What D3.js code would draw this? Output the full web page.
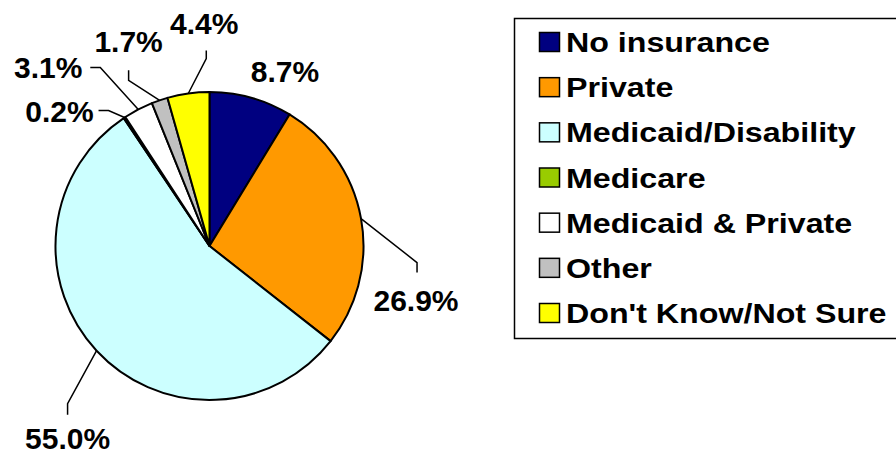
<!DOCTYPE html>
<html>
<head>
<meta charset="utf-8">
<script src="https://cdn.jsdelivr.net/npm/d3@7"></script>
<style>
  html, body { margin: 0; padding: 0; background: #fff; }
  svg { display: block; }
  text { font-family: "Liberation Sans", Arial, Helvetica, sans-serif; font-weight: bold; fill: #000; }
</style>
</head>
<body>
<svg id="chart" width="896" height="455"></svg>
<script>
// ---- data ----
const categories = ["No insurance", "Private", "Medicaid/Disability", "Medicare", "Medicaid & Private", "Other", "Don't Know/Not Sure"];
const values = [8.7, 26.9, 55.0, 0.2, 3.1, 1.7, 4.4];
const colors = ["#000080", "#FF9900", "#CCFFFF", "#99CC00", "#FFFFFF", "#C0C0C0", "#FFFF00"];

// ---- label layout (offsets relative to the slice's outer edge point) ----
const labelLayout = [
  { leader: false, text: [285, 82] },
  { leader: true, elbow: [56, 44], tail: [0, 10], text: [-1, 38], anchor: "middle" },
  { leader: true, elbow: [-29, 53], tail: [0, 11], text: [0, 34], anchor: "middle" },
  { leader: true, elbow: [-16, -7], tail: [-10, 0], text: [-39, 11], anchor: "middle" },
  { leader: true, elbow: [-38, -42], tail: [-10, 0], text: [-42, 11], anchor: "middle" },
  { leader: true, elbow: [-31, -20], tail: [0, -10], text: [0, -18], anchor: "middle" },
  { leader: true, elbow: [18, -35], tail: [0, -8], text: [-2, -16], anchor: "middle" }
];

const svg = d3.select("#chart");
const cx = 209.5, cy = 246, r = 154;

const pie = d3.pie().sort(null).value(d => d)(values);
const arc = d3.arc().innerRadius(0).outerRadius(r);

const g = svg.append("g").attr("transform", `translate(${cx},${cy})`);
g.selectAll("path.slice")
  .data(pie)
  .join("path")
  .attr("class", "slice")
  .attr("d", arc)
  .attr("fill", (d, i) => colors[i])
  .attr("stroke", "#000")
  .attr("stroke-width", 2)
  .attr("stroke-linejoin", "round");

pie.forEach((d, i) => {
  const L = labelLayout[i];
  const txt = values[i].toFixed(1) + "%";
  if (!L.leader) {
    svg.append("text")
      .attr("x", L.text[0]).attr("y", L.text[1])
      .attr("text-anchor", "middle")
      .attr("font-size", 30)
      .text(txt);
    return;
  }
  const a = (d.startAngle + d.endAngle) / 2;
  const p0 = [cx + r * Math.sin(a), cy - r * Math.cos(a)];
  const p1 = [p0[0] + L.elbow[0], p0[1] + L.elbow[1]];
  const p2 = [p1[0] + L.tail[0], p1[1] + L.tail[1]];
  svg.append("path")
    .attr("d", d3.line()([p0, p1, p2]))
    .attr("fill", "none")
    .attr("stroke", "#000")
    .attr("stroke-width", 1.5);
  svg.append("text")
    .attr("x", p2[0] + L.text[0]).attr("y", p2[1] + L.text[1])
    .attr("text-anchor", L.anchor)
    .attr("font-size", 30)
    .text(txt);
});

// legend
const legend = svg.append("g");
legend.append("rect")
  .attr("x", 514.5).attr("y", 18.5)
  .attr("width", 420).attr("height", 320)
  .attr("fill", "#fff")
  .attr("stroke", "#000")
  .attr("stroke-width", 1.5);

const rowY = d3.scaleLinear().domain([0, categories.length - 1]).range([42, 313]);
const items = legend.selectAll("g.item")
  .data(categories)
  .join("g")
  .attr("class", "item")
  .attr("transform", (d, i) => `translate(539,${rowY(i)})`);
items.append("rect")
  .attr("x", 0.5).attr("y", -9.5)
  .attr("width", 20).attr("height", 19)
  .attr("fill", (d, i) => colors[i])
  .attr("stroke", "#000")
  .attr("stroke-width", 1.5);
items.append("text")
  .attr("transform", "translate(27,10) scale(1.15,1)")
  .attr("font-size", 28)
  .text(d => d);
</script>
</body>
</html>
